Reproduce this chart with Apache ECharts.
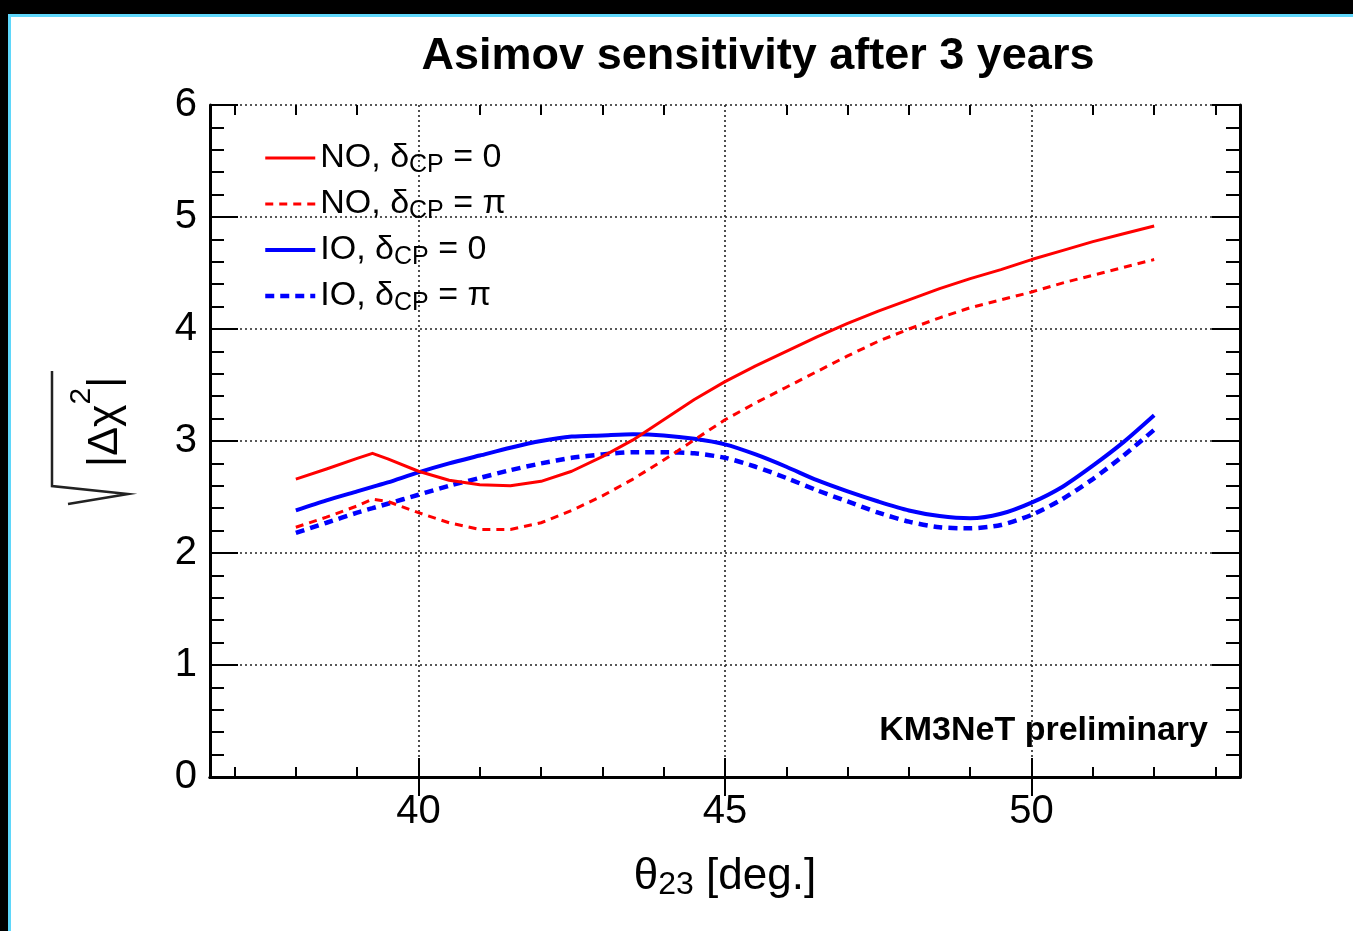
<!DOCTYPE html>
<html>
<head>
<meta charset="utf-8">
<title>Asimov sensitivity after 3 years</title>
<script src="https://cdn.jsdelivr.net/npm/echarts@6/dist/echarts.min.js"></script>
<style>
  html, body { margin: 0; padding: 0; background: #fff; }
  #chart { width: 1353px; height: 931px; }
</style>
</head>
<body>
<div id="chart"></div>
<script>
// theta_23 sampling points [deg.]
const theta = [38, 38.5, 39, 39.25, 39.5, 40, 40.5, 41, 41.5, 42, 42.5, 43, 43.5, 44, 44.5,
               45, 45.5, 46, 46.5, 47, 47.5, 48, 48.5, 49, 49.5, 50, 50.5, 51, 51.5, 52];

// sqrt(|delta chi^2|) for each hypothesis
const noDelta0  = [2.66, 2.75, 2.845, 2.89, 2.84, 2.73, 2.65, 2.61, 2.60, 2.64, 2.73, 2.86, 3.01, 3.19, 3.37,
                   3.53, 3.67, 3.80, 3.93, 4.05, 4.16, 4.26, 4.36, 4.45, 4.53, 4.62, 4.70, 4.78, 4.85, 4.92];
const noDeltaPi = [2.23, 2.32, 2.42, 2.48, 2.46, 2.36, 2.27, 2.21, 2.21, 2.27, 2.38, 2.51, 2.66, 2.83, 3.01,
                   3.19, 3.34, 3.48, 3.62, 3.76, 3.89, 4.00, 4.10, 4.19, 4.26, 4.33, 4.41, 4.48, 4.55, 4.62];
const ioDelta0  = [2.38, 2.47, 2.55, 2.59, 2.63, 2.72, 2.80, 2.87, 2.94, 3.00, 3.04, 3.05, 3.06, 3.05, 3.02,
                   2.97, 2.88, 2.77, 2.65, 2.55, 2.46, 2.38, 2.33, 2.31, 2.35, 2.45, 2.59, 2.78, 2.99, 3.23];
const ioDeltaPi = [2.18, 2.27, 2.36, 2.40, 2.44, 2.52, 2.60, 2.67, 2.74, 2.80, 2.85, 2.88, 2.90, 2.90, 2.89,
                   2.85, 2.77, 2.67, 2.56, 2.46, 2.36, 2.28, 2.23, 2.22, 2.25, 2.34, 2.48, 2.66, 2.87, 3.10];

const seriesNames = ['NO, δCP = 0', 'NO, δCP = π', 'IO, δCP = 0', 'IO, δCP = π'];

// axis ticks
const xMajorTicks = [40, 45, 50];
const xMinorTicks = [37, 38, 39, 41, 42, 43, 44, 46, 47, 48, 49, 51, 52, 53];
const xRange = [36.6, 53.4];
const yRange = [0, 6];

const FONT = '"Liberation Sans", Arial, Helvetica, sans-serif';
const RED = '#ff0000';
const BLUE = '#0000ff';

const pairs = ys => theta.map((t, i) => [t, ys[i]]);

const gridRect = { left: 210, right: 113, top: 105, bottom: 154 };
const frameLine = { show: true, lineStyle: { color: '#000', width: 3 } };
const gridDots = { show: true, lineStyle: { color: '#222', width: 1.6, type: [2, 3] } };

function xMajor(position, withLabels) {
  return {
    type: 'value', gridIndex: 0, position,
    min: xRange[0], max: xRange[1],
    axisLine: frameLine,
    axisTick: { show: true, inside: true, length: 19, customValues: xMajorTicks,
                lineStyle: { color: '#000', width: 2 } },
    axisLabel: withLabels
      ? { show: true, customValues: xMajorTicks, fontSize: 40, color: '#000', fontFamily: FONT, margin: 15 }
      : { show: false },
    splitLine: withLabels ? Object.assign({}, gridDots) : { show: false }
  };
}
function xMinor(position) {
  return {
    type: 'value', gridIndex: 1, position,
    min: xRange[0], max: xRange[1],
    axisLine: { show: false },
    axisTick: { show: true, inside: true, length: 10, customValues: xMinorTicks,
                lineStyle: { color: '#000', width: 2 } },
    axisLabel: { show: false },
    splitLine: { show: false }
  };
}
function yAxisDef(position, withLabels) {
  return {
    type: 'value', gridIndex: 0, position,
    min: yRange[0], max: yRange[1], interval: 1,
    axisLine: frameLine,
    axisTick: { show: true, inside: true, length: 28, lineStyle: { color: '#000', width: 2 } },
    minorTick: { show: true, splitNumber: 5, length: 14, lineStyle: { color: '#000', width: 2 } },
    axisLabel: withLabels
      ? { show: true, fontSize: 40, color: '#000', fontFamily: FONT, margin: 13 }
      : { show: false },
    splitLine: withLabels ? Object.assign({}, gridDots) : { show: false }
  };
}

const xAxes = [xMajor('bottom', true), xMajor('top', false), xMinor('bottom'), xMinor('top')];
xAxes[0].name = '{m|θ}{s|23}{m| [deg.]}';
xAxes[0].nameLocation = 'middle';
xAxes[0].nameGap = 76;
xAxes[0].nameTextStyle = {
  color: '#000', fontFamily: FONT,
  rich: {
    m: { fontSize: 44, lineHeight: 48, fontFamily: FONT, color: '#000' },
    s: { fontSize: 32, lineHeight: 12, verticalAlign: 'bottom', fontFamily: FONT, color: '#000' }
  }
};

const option = {
  animation: false,
  backgroundColor: '#fff',
  textStyle: { fontFamily: FONT },
  grid: [Object.assign({ containLabel: false }, gridRect), Object.assign({ containLabel: false }, gridRect)],
  xAxis: xAxes,
  yAxis: [
    yAxisDef('left', true),
    yAxisDef('right', false),
    { type: 'value', gridIndex: 1, min: yRange[0], max: yRange[1], show: false }
  ],
  legend: {
    data: seriesNames,
    orient: 'vertical',
    left: 263, top: 141,
    padding: 0,
    itemWidth: 50, itemHeight: 40, itemGap: 9,
    selectedMode: false,
    // line-only keys: hide the marker, keep the series line style
    itemStyle: { color: 'rgba(0,0,0,0)', borderColor: 'rgba(0,0,0,0)', borderWidth: 0 },
    lineStyle: { width: 'inherit', type: 'inherit', color: 'inherit' },
    formatter: name => {
      const parts = name.split('CP');
      return '{m|' + parts[0] + '}{s|CP}{m|' + parts[1] + '}';
    },
    textStyle: {
      color: '#000', fontFamily: FONT,
      rich: {
        m: { fontSize: 34, lineHeight: 40, color: '#000', fontFamily: FONT },
        s: { fontSize: 25, lineHeight: 12, verticalAlign: 'bottom', color: '#000', fontFamily: FONT }
      }
    }
  },
  series: [
    { name: seriesNames[2], type: 'line', xAxisIndex: 0, yAxisIndex: 0, data: pairs(ioDelta0),
      symbol: 'none', smooth: 0.25, lineStyle: { color: BLUE, width: 4 }, itemStyle: { color: BLUE } },
    { name: seriesNames[3], type: 'line', xAxisIndex: 0, yAxisIndex: 0, data: pairs(ioDeltaPi),
      symbol: 'none', smooth: 0.25, lineStyle: { color: BLUE, width: 4.5, type: [9, 6] }, itemStyle: { color: BLUE } },
    { name: seriesNames[0], type: 'line', xAxisIndex: 0, yAxisIndex: 0, data: pairs(noDelta0),
      symbol: 'none', smooth: false, lineStyle: { color: RED, width: 3, join: 'round' }, itemStyle: { color: RED } },
    { name: seriesNames[1], type: 'line', xAxisIndex: 0, yAxisIndex: 0, data: pairs(noDeltaPi),
      symbol: 'none', smooth: false, lineStyle: { color: RED, width: 3, type: [8, 6] }, itemStyle: { color: RED } }
  ],
  graphic: [
    // window frame
    { type: 'rect', silent: true, shape: { x: 0, y: 0, width: 1353, height: 14 }, style: { fill: '#000' } },
    { type: 'rect', silent: true, shape: { x: 0, y: 0, width: 8, height: 931 }, style: { fill: '#000' } },
    { type: 'rect', silent: true, shape: { x: 8, y: 14, width: 1345, height: 3 }, style: { fill: '#5fd7fb' } },
    { type: 'rect', silent: true, shape: { x: 8, y: 14, width: 3, height: 917 }, style: { fill: '#5fd7fb' } },
    // title
    { type: 'text', silent: true, x: 758, y: 57,
      style: { text: 'Asimov sensitivity after 3 years', font: 'bold 45px ' + FONT,
               fill: '#000', align: 'center', verticalAlign: 'middle' } },
    // experiment tag
    { type: 'text', silent: true, x: 1208, y: 731,
      style: { text: 'KM3NeT preliminary', font: 'bold 34px ' + FONT,
               fill: '#000', align: 'right', verticalAlign: 'middle' } },
    // y axis title: sqrt(|delta chi^2|), reading bottom to top
    { type: 'group', silent: true, x: 130, y: 507, rotation: Math.PI / 2,
      children: [
        { type: 'polyline', shape: { points: [[3, -62], [13, -2], [21, -78], [136, -78]] },
          style: { stroke: '#222', lineWidth: 2.5, fill: null } },
        { type: 'text', x: 40, y: -25,
          style: {
            text: '{t||Δχ}{p|2}{t||}', align: 'left', verticalAlign: 'middle',
            rich: {
              t: { fontSize: 43, lineHeight: 76, fontFamily: FONT, color: '#222' },
              p: { fontSize: 30, lineHeight: 20, verticalAlign: 'top', fontFamily: FONT, color: '#222' }
            }
          } }
      ] }
  ]
};

const chart = echarts.init(document.getElementById('chart'), null, { renderer: 'canvas' });
chart.setOption(option);
</script>
</body>
</html>
